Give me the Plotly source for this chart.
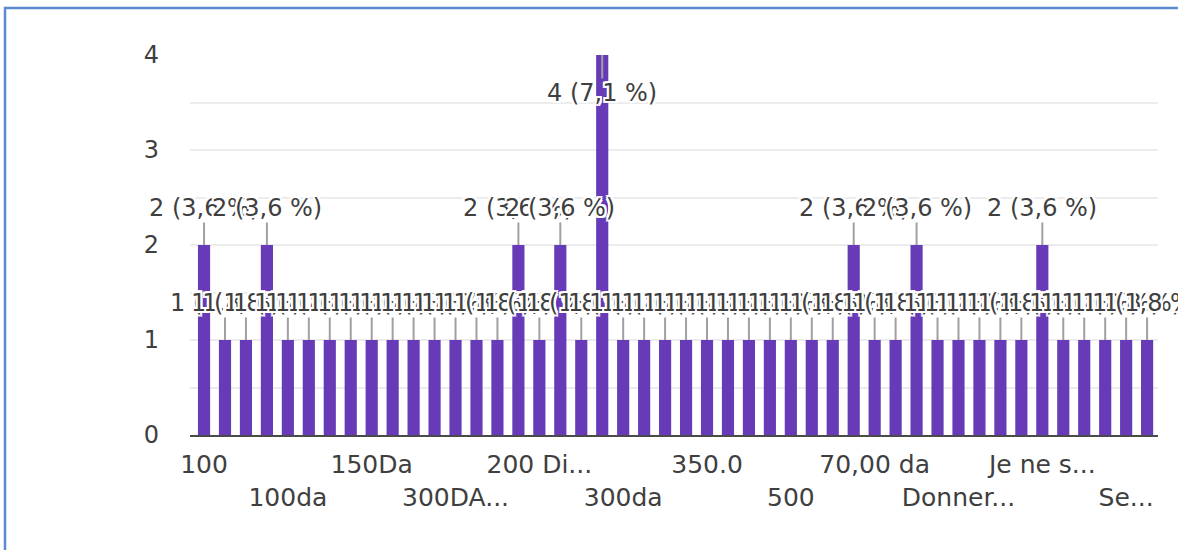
import plotly.graph_objects as go

# Responses (one bar per distinct answer) and how many people gave each one
categories = [
    "100", "100 DA", "100 da", "100 dinars", "100da", "1000 DA", "120 da", "150",
    "150Da", "150 DA", "150 da", "200", "300DA par mois", "200 DA", "200 da", "200DA",
    "200 Dinars", "250", "250 DA", "300", "300da", "300 DA", "300 da", "350",
    "350.0", "400", "400 DA", "450", "500", "500 DA", "500da", "600",
    "70,00 da", "700", "80 da", "800", "Donner ce qu'on peut", "Entre 100 et 200",
    "Gratuit", "Il dépend", "Je ne sais pas", "Le prix juste", "Moins de 100",
    "Pas cher", "Selon la qualité", "Symbolique",
]
counts = [
    2, 1, 1, 2, 1, 1, 1, 1,
    1, 1, 1, 1, 1, 1, 1, 2,
    1, 2, 1, 4, 1, 1, 1, 1,
    1, 1, 1, 1, 1, 1, 1, 2,
    1, 1, 2, 1, 1, 1,
    1, 1, 2, 1, 1,
    1, 1, 1,
]

# Shortened axis labels, shown for every fourth answer
tick_labels = ["100", "100da", "150Da", "300DA...", "200 Di...", "300da",
               "350.0", "500", "70,00 da", "Donner...", "Je ne s...", "Se..."]
y_ticks = [0, 1, 2, 3, 4]

BAR = "#673ab7"
TEXT = "#3f3f3f"
GRID = "#ececec"
FONT = "DejaVu Sans"

total = sum(counts)
tick_step = 4
tickvals = list(range(0, len(categories), tick_step))
# stagger the labels over two rows
ticktext = [t if i % 2 == 0 else "<br>" + t for i, t in enumerate(tick_labels)]

fig = go.Figure(
    go.Bar(
        x=categories,
        y=counts,
        marker=dict(color=BAR, line=dict(width=0)),
        hoverinfo="skip",
    )
)

ymax = max(y_ticks)
halo = ("2px 0 0 #fff, -2px 0 0 #fff, 0 2px 0 #fff, 0 -2px 0 #fff, "
        "2px 2px 0 #fff, -2px -2px 0 #fff, 2px -2px 0 #fff, -2px 2px 0 #fff")
# value labels; positions on a category axis are given by index so that
# numeric-looking answers such as "300" are not read as coordinates
for i, n in enumerate(counts):
    pct = f"{n / total * 100:.1f}".replace(".", ",")
    inside = n >= ymax
    fig.add_annotation(
        x=i, y=n, xref="x", yref="y",
        text=f"{n} ({pct} %)",
        showarrow=True, arrowhead=0, arrowwidth=2, arrowcolor="#a0a0a0",
        standoff=0, ax=0, ay=38 if inside else -37,
        font=dict(family=FONT, size=24, color=TEXT, shadow=halo),
        borderpad=0,
    )

# thin blue frame around the figure
fig.add_shape(
    type="rect", xref="paper", yref="paper",
    x0=(5 - 190) / 968, x1=(1200 - 190) / 968,
    y0=(435 - 570) / 380, y1=(435 - 8) / 380,
    line=dict(color="#5b8ad0", width=2.5), fillcolor="rgba(0,0,0,0)",
    layer="above",
)

fig.update_layout(
    width=1178, height=550,
    margin=dict(l=190, r=20, t=55, b=115),
    paper_bgcolor="white", plot_bgcolor="white",
    showlegend=False,
    bargap=0.42,
    font=dict(family=FONT, color=TEXT),
    xaxis=dict(
        type="category",
        range=[-0.67, 45.52],
        tickmode="array", tickvals=tickvals, ticktext=ticktext,
        tickangle=0, ticks="", showgrid=False,
        showline=True, linecolor="#4a4a4a", linewidth=2,
        ticklabelstandoff=6,
        tickfont=dict(family=FONT, size=25, color=TEXT),
        fixedrange=True,
    ),
    yaxis=dict(
        range=[0, ymax],
        tickmode="array", tickvals=y_ticks,
        showgrid=True, gridcolor=GRID, gridwidth=2,
        minor=dict(dtick=0.5, showgrid=True, gridcolor=GRID, gridwidth=1.5),
        zeroline=False, ticks="",
        ticklabelstandoff=30,
        tickfont=dict(family=FONT, size=24, color=TEXT),
        fixedrange=True,
    ),
)

fig.write_html("out.html")
